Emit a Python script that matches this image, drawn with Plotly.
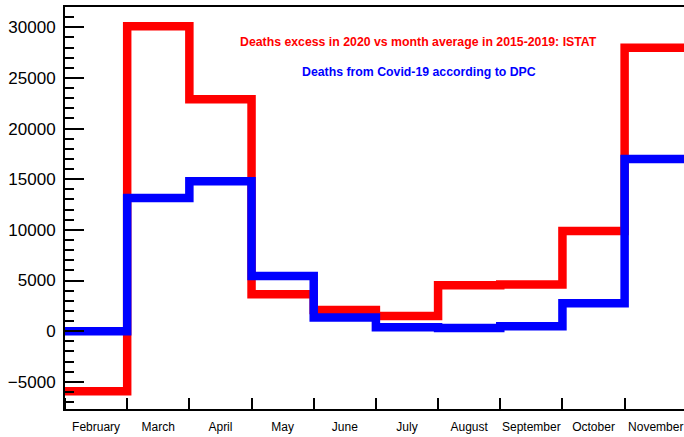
import plotly.graph_objects as go

# Months (one histogram bin each)
months = ["February", "March", "April", "May", "June", "July",
          "August", "September", "October", "November"]

# Excess deaths in 2020 vs. 2015-2019 monthly average (ISTAT)
istat_excess = [-5930, 30100, 22900, 3650, 2100, 1500, 4530, 4600, 9900, 27970]

# Covid-19 deaths reported by DPC
dpc_deaths = [0, 13150, 14800, 5450, 1340, 390, 320, 490, 2760, 16990]

y_ticks = [-5000, 0, 5000, 10000, 15000, 20000, 25000, 30000]
y_tick_labels = ["\u22125000", "0", "5000", "10000", "15000", "20000", "25000", "30000"]

n = len(months)
edges = list(range(n + 1))
centers = [i + 0.5 for i in range(n)]


def step(values):
    # repeat last value so the final bin closes at its right edge
    return values + [values[-1]]


fig = go.Figure()
fig.add_trace(go.Scatter(
    x=edges, y=step(istat_excess), mode="lines", line_shape="hv",
    line=dict(color="#ff0000", width=8.5), showlegend=False,
))
fig.add_trace(go.Scatter(
    x=edges, y=step(dpc_deaths), mode="lines", line_shape="hv",
    line=dict(color="#0000ff", width=8.5), showlegend=False,
))

font_family = "Liberation Sans, Arial, sans-serif"

fig.update_layout(
    width=684, height=437,
    margin=dict(l=65, r=0, t=7, b=28),
    paper_bgcolor="white", plot_bgcolor="white",
    font=dict(family=font_family, color="black"),
    xaxis=dict(
        range=[0, 9.955],
        tickmode="array", tickvals=centers, ticktext=months,
        ticks="", tickfont=dict(size=12),
        showgrid=False, zeroline=False,
        showline=True, linecolor="black", linewidth=2, mirror=True,
        minor=dict(tickmode="linear", tick0=0, dtick=1, ticks="inside",
                   ticklen=11, tickwidth=2, tickcolor="black", showgrid=False),
        ticklabelstandoff=6,
    ),
    yaxis=dict(
        range=[-7680, 32000],
        tickmode="array", tickvals=y_ticks, ticktext=y_tick_labels,
        ticks="inside", ticklen=19, tickwidth=2, tickcolor="black",
        tickfont=dict(size=17),
        showgrid=False, zeroline=False,
        showline=True, linecolor="black", linewidth=2,
        minor=dict(dtick=1000, tick0=0, ticks="inside", ticklen=9,
                   tickwidth=2, tickcolor="black", showgrid=False),
        ticklabelstandoff=4,
    ),
)

fig.add_annotation(
    x=5.69, y=28520, xref="x", yref="y", showarrow=False,
    text="<b>Deaths excess in 2020 vs month average in 2015-2019: ISTAT</b>",
    font=dict(family=font_family, size=12.3, color="#ff0000"),
)
fig.add_annotation(
    x=5.70, y=25550, xref="x", yref="y", showarrow=False,
    text="<b>Deaths from Covid-19 according to DPC</b>",
    font=dict(family=font_family, size=12.3, color="#0000ff"),
)

fig.write_html("out.html")
